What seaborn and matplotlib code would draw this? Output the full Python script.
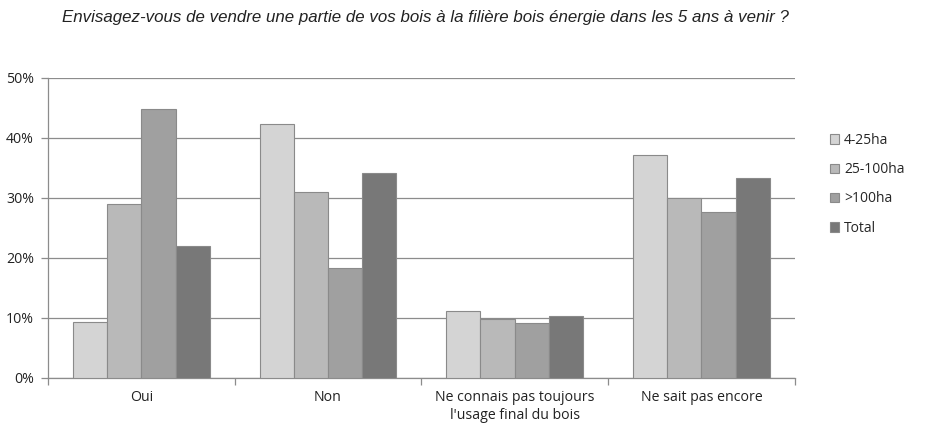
import matplotlib
matplotlib.use("Agg")

import matplotlib.pyplot as plt
import pandas as pd
import seaborn as sns
from matplotlib.ticker import FuncFormatter, FixedLocator

categories = ["Oui", "Non", "Ne connais pas toujours\nl'usage final du bois", "Ne sait pas encore"]
groups = ["4-25ha", "25-100ha", ">100ha", "Total"]
small = [9.4, 42.3, 11.1, 37.2]
medium = [29.0, 31.0, 9.9, 30.0]
large = [44.9, 18.4, 9.1, 27.6]
total = [22.0, 34.2, 10.4, 33.4]

colors = ["#d4d4d4", "#b9b9b9", "#a0a0a0", "#787878"]

rows = []
for g, vals in zip(groups, [small, medium, large, total]):
    for c, v in zip(categories, vals):
        rows.append({"cat": c, "group": g, "val": v})
df = pd.DataFrame(rows)

sns.set_theme(style="white")
plt.rcParams["font.family"] = ["Open Sans", "DejaVu Sans"]

fig = plt.figure(figsize=(9.35, 4.26), dpi=100)
ax = fig.add_axes([0.0513, 0.1127, 0.7987, 0.7043])

sns.barplot(data=df, x="cat", y="val", hue="group", palette=colors,
            width=0.733, edgecolor="#8a8a8a", linewidth=0.8, ax=ax,
            saturation=1, errorbar=None, zorder=3)

ax.set_ylim(0, 50)
ax.set_xlim(-0.5, 3.5)
ax.set_yticks([0, 10, 20, 30, 40, 50])
ax.yaxis.set_major_formatter(FuncFormatter(lambda v, p: f"{v:.0f}%"))
ax.grid(axis="y", color="#8c8c8c", linewidth=0.9, zorder=0)
ax.set_axisbelow(True)
ax.set_xlabel("")
ax.set_ylabel("")

for s in ["top", "right"]:
    ax.spines[s].set_visible(False)
for s in ["left", "bottom"]:
    ax.spines[s].set_color("#8c8c8c")
    ax.spines[s].set_linewidth(0.9)

ax.xaxis.set_minor_locator(FixedLocator([-0.5, 0.5, 1.5, 2.5, 3.5]))
ax.tick_params(axis="x", which="major", length=0, labelsize=10.2, colors="#222222", pad=9)
ax.tick_params(axis="x", which="minor", length=5, color="#8c8c8c", width=0.9, bottom=True)
ax.tick_params(axis="y", length=5, color="#8c8c8c", width=0.9, labelsize=10.2, colors="#222222", left=True, pad=5)
for t in ax.get_xticklabels():
    t.set_linespacing(1.25)

handles, labels = ax.get_legend_handles_labels()
leg = ax.legend(handles, labels, loc="upper left", bbox_to_anchor=(1.03, 0.858),
                frameon=False, fontsize=10, handlelength=0.7, handleheight=0.7,
                handletextpad=0.35, labelspacing=1.02)

fig.text(0.455, 0.958, "Envisagez-vous de vendre une partie de vos bois à la filière bois énergie dans les 5 ans à venir ?",
         ha="center", va="center", fontsize=12.2, style="italic",
         family=["Liberation Sans", "DejaVu Sans"], color="#222222")

fig.savefig("out.png", dpi=100)
